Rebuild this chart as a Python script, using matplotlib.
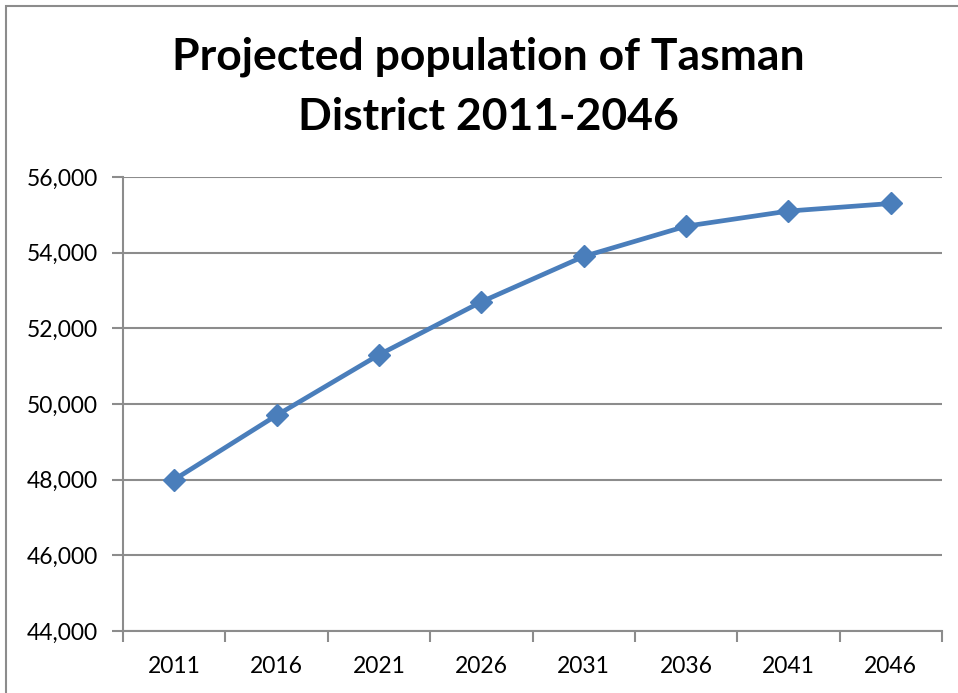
import matplotlib
matplotlib.use('Agg')
import matplotlib.pyplot as plt
from matplotlib.patches import Rectangle
from matplotlib.ticker import FuncFormatter

years = ['2011', '2016', '2021', '2026', '2031', '2036', '2041', '2046']
population = [48000, 49700, 51300, 52700, 53900, 54700, 55100, 55300]

plt.rcParams['font.family'] = ['Lato', 'DejaVu Sans']

fig = plt.figure(figsize=(9.58, 6.93), dpi=100)
# outer chart border (only top/left visible in the reference)
fig.patches.append(Rectangle((6 / 958, -0.1), 1.2, (693 - 6) / 693 + 0.1,
                             transform=fig.transFigure, fill=False,
                             edgecolor='#8c8c8c', linewidth=1.5))

ax = fig.add_axes([123 / 958, 62 / 693, (942 - 123) / 958, (631 - 177) / 693])
x = list(range(len(years)))
ax.plot(x, population, color='#4a7ebb', linewidth=3.4, marker='D',
        markersize=11, zorder=3)

ax.set_xlim(-0.5, len(years) - 0.5)
ax.set_ylim(44000, 56000)
ax.set_yticks(range(44000, 56001, 2000))
ax.yaxis.set_major_formatter(FuncFormatter(lambda v, p: f'{int(v):,}'))
ax.set_xticks(x)
ax.set_xticklabels(years)
ax.set_xticks([i - 0.5 for i in range(len(years) + 1)], minor=True)
ax.tick_params(axis='x', which='major', length=0, pad=18, labelsize=16.5)
ax.tick_params(axis='x', which='minor', length=8, width=1.5, color='#8c8c8c')
ax.tick_params(axis='y', length=8, width=1.5, color='#8c8c8c', labelsize=16.5, pad=10)
ax.grid(axis='y', color='#8c8c8c', linewidth=1.5)
ax.set_axisbelow(True)
for s in ['top', 'right']:
    ax.spines[s].set_visible(False)
for s in ['left', 'bottom']:
    ax.spines[s].set_color('#8c8c8c')
    ax.spines[s].set_linewidth(1.5)

fig.text(488 / 958, 1 - 87 / 693, 'Projected population of Tasman\nDistrict 2011-2046',
         ha='center', va='center', fontsize=32, fontweight='bold',
         linespacing=1.62)

fig.savefig('out.png', dpi=100)
